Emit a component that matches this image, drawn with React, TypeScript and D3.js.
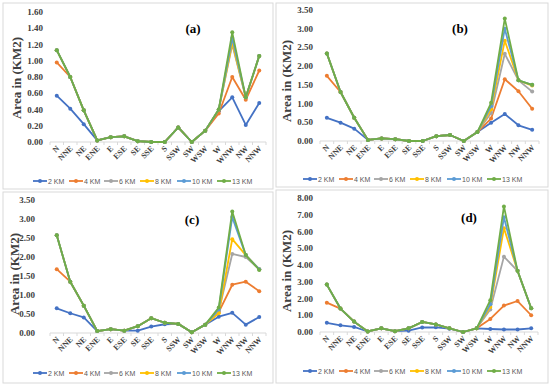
import React from 'react';
import * as d3 from 'd3';

const directions = ['N', 'NNE', 'NE', 'ENE', 'E', 'ESE', 'SE', 'SSE', 'S', 'SSW', 'SW', 'WSW', 'W', 'WNW', 'NW', 'NNW'];
const seriesNames = ['2 KM', '4 KM', '6 KM', '8 KM', '10 KM', '13 KM'];
const seriesColors = ['#4472C4', '#ED7D31', '#A5A5A5', '#FFC000', '#5B9BD5', '#70AD47'];

// panel (a)
const aKm2 = [0.57, 0.41, 0.22, 0.02, 0.06, 0.07, 0.01, 0.00, 0.00, 0.18, 0.00, 0.14, 0.38, 0.55, 0.21, 0.48];
const aKm4 = [0.98, 0.80, 0.39, 0.02, 0.06, 0.07, 0.01, 0.00, 0.00, 0.18, 0.00, 0.14, 0.35, 0.80, 0.52, 0.88];
const aKm6 = [1.13, 0.80, 0.39, 0.02, 0.06, 0.07, 0.01, 0.00, 0.00, 0.18, 0.00, 0.14, 0.40, 1.20, 0.55, 1.06];
const aKm8 = [1.13, 0.80, 0.39, 0.02, 0.06, 0.07, 0.01, 0.00, 0.00, 0.18, 0.00, 0.14, 0.40, 1.22, 0.55, 1.06];
const aKm10 = [1.13, 0.80, 0.39, 0.02, 0.06, 0.07, 0.01, 0.00, 0.00, 0.18, 0.00, 0.14, 0.40, 1.28, 0.55, 1.06];
const aKm13 = [1.13, 0.80, 0.39, 0.02, 0.06, 0.07, 0.01, 0.00, 0.00, 0.18, 0.00, 0.14, 0.40, 1.35, 0.55, 1.06];
const aTicks = [0, 0.2, 0.4, 0.6, 0.8, 1.0, 1.2, 1.4, 1.6];

// panel (b)
const bKm2 = [0.62, 0.49, 0.33, 0.03, 0.07, 0.05, 0.00, 0.00, 0.13, 0.16, 0.00, 0.24, 0.49, 0.72, 0.42, 0.30];
const bKm4 = [1.74, 1.31, 0.62, 0.03, 0.07, 0.05, 0.00, 0.00, 0.13, 0.16, 0.00, 0.24, 0.60, 1.65, 1.33, 0.86];
const bKm6 = [2.34, 1.31, 0.62, 0.03, 0.07, 0.05, 0.00, 0.00, 0.13, 0.16, 0.00, 0.24, 0.75, 2.33, 1.62, 1.32];
const bKm8 = [2.34, 1.31, 0.62, 0.03, 0.07, 0.05, 0.00, 0.00, 0.13, 0.16, 0.00, 0.24, 0.85, 2.68, 1.62, 1.48];
const bKm10 = [2.34, 1.31, 0.62, 0.03, 0.07, 0.05, 0.00, 0.00, 0.13, 0.16, 0.00, 0.24, 0.93, 3.00, 1.62, 1.50];
const bKm13 = [2.34, 1.31, 0.62, 0.03, 0.07, 0.05, 0.00, 0.00, 0.13, 0.16, 0.00, 0.24, 1.02, 3.27, 1.62, 1.50];
const bTicks = [0, 0.5, 1.0, 1.5, 2.0, 2.5, 3.0, 3.5];

// panel (c)
const cKm2 = [0.65, 0.52, 0.41, 0.05, 0.10, 0.06, 0.06, 0.17, 0.23, 0.24, 0.02, 0.22, 0.43, 0.53, 0.22, 0.42];
const cKm4 = [1.68, 1.35, 0.72, 0.05, 0.10, 0.06, 0.18, 0.39, 0.27, 0.24, 0.02, 0.22, 0.55, 1.27, 1.35, 1.10];
const cKm6 = [2.57, 1.35, 0.72, 0.05, 0.10, 0.06, 0.18, 0.39, 0.27, 0.24, 0.02, 0.22, 0.57, 2.08, 2.00, 1.68];
const cKm8 = [2.57, 1.35, 0.72, 0.05, 0.10, 0.06, 0.18, 0.39, 0.27, 0.24, 0.02, 0.22, 0.52, 2.47, 2.05, 1.68];
const cKm10 = [2.57, 1.35, 0.72, 0.05, 0.10, 0.06, 0.18, 0.39, 0.27, 0.24, 0.02, 0.22, 0.62, 3.05, 2.05, 1.68];
const cKm13 = [2.57, 1.35, 0.72, 0.05, 0.10, 0.06, 0.18, 0.39, 0.27, 0.24, 0.02, 0.22, 0.67, 3.20, 2.05, 1.66];
const cTicks = [0, 0.5, 1.0, 1.5, 2.0, 2.5, 3.0, 3.5];

// panel (d)
const dKm2 = [0.55, 0.40, 0.30, 0.03, 0.22, 0.05, 0.08, 0.27, 0.28, 0.20, 0.00, 0.22, 0.18, 0.15, 0.15, 0.22];
const dKm4 = [1.75, 1.40, 0.62, 0.03, 0.22, 0.05, 0.22, 0.60, 0.45, 0.22, 0.00, 0.22, 0.78, 1.58, 1.85, 1.00];
const dKm6 = [2.83, 1.40, 0.62, 0.03, 0.22, 0.05, 0.22, 0.60, 0.45, 0.22, 0.00, 0.22, 1.35, 4.50, 3.65, 1.42];
const dKm8 = [2.83, 1.40, 0.62, 0.03, 0.22, 0.05, 0.22, 0.60, 0.45, 0.22, 0.00, 0.22, 1.50, 6.20, 3.65, 1.42];
const dKm10 = [2.83, 1.40, 0.62, 0.03, 0.22, 0.05, 0.22, 0.60, 0.45, 0.22, 0.00, 0.22, 1.65, 6.85, 3.65, 1.42];
const dKm13 = [2.83, 1.40, 0.62, 0.03, 0.22, 0.05, 0.22, 0.60, 0.45, 0.22, 0.00, 0.22, 1.90, 7.50, 3.65, 1.42];
const dTicks = [0, 1, 2, 3, 4, 5, 6, 7, 8];

const W = 550;
const H = 386;
const legendOffsets = [0, 36, 71, 107, 144, 184];

// layout of each panel (frame, plot area, label positions)
const panels = [
  {
    label: '(a)', series: [aKm2, aKm4, aKm6, aKm8, aKm10, aKm13], ticks: aTicks,
    frame: [3, 3, 270, 186], x0: 50, x1: 266, yBottom: 142, yTop: 12,
    tickRight: 43, titleX: 21, titleY: 78, labelX: 193, labelY: 33, legendX: 33, legendY: 181,
  },
  {
    label: '(b)', series: [bKm2, bKm4, bKm6, bKm8, bKm10, bKm13], ticks: bTicks,
    frame: [276, 3, 272, 184], x0: 320, x1: 539, yBottom: 141, yTop: 10,
    tickRight: 313, titleX: 291, titleY: 81, labelX: 460, labelY: 33, legendX: 303, legendY: 179,
  },
  {
    label: '(c)', series: [cKm2, cKm4, cKm6, cKm8, cKm10, cKm13], ticks: cTicks,
    frame: [3, 192, 270, 191], x0: 50, x1: 266, yBottom: 333, yTop: 200,
    tickRight: 35, titleX: 19, titleY: 274, labelX: 192, labelY: 224, legendX: 33, legendY: 373,
  },
  {
    label: '(d)', series: [dKm2, dKm4, dKm6, dKm8, dKm10, dKm13], ticks: dTicks,
    frame: [276, 190, 272, 193], x0: 320, x1: 538, yBottom: 332, yTop: 198,
    tickRight: 313, titleX: 291, titleY: 271, labelX: 469, labelY: 222, legendX: 303, legendY: 371,
  },
];

const serif = '"Liberation Serif", "Times New Roman", serif';
const sans = '"Liberation Sans", Arial, sans-serif';

function Panel({ p }: { p: (typeof panels)[number] }) {
  const x = d3.scalePoint<string>().domain(directions).range([p.x0, p.x1]).padding(0.5);
  const y = d3.scaleLinear()
    .domain([p.ticks[0], p.ticks[p.ticks.length - 1]])
    .range([p.yBottom, p.yTop]);
  const line = d3.line<number>()
    .x((_, i) => x(directions[i]) as number)
    .y((d) => y(d));
  const step = x.step();
  const [fx, fy, fw, fh] = p.frame;

  return (
    <g>
      <rect x={fx} y={fy} width={fw} height={fh} fill="#fff" stroke="#d9d9d9" strokeWidth={1} />
      {/* y axis ticks */}
      {p.ticks.map((t) => (
        <text key={t} x={p.tickRight} y={y(t) + 3} textAnchor="end"
          fontFamily={serif} fontWeight="bold" fontSize={9} fill="#404040">
          {t.toFixed(2)}
        </text>
      ))}
      <text transform={`translate(${p.titleX},${p.titleY}) rotate(-90)`} textAnchor="middle"
        fontFamily={serif} fontWeight="bold" fontSize={13} fill="#404040">
        Area in (KM2)
      </text>
      {/* x axis */}
      <line x1={p.x0} x2={p.x1} y1={p.yBottom} y2={p.yBottom} stroke="#d9d9d9" strokeWidth={1} />
      {d3.range(directions.length + 1).map((i) => (
        <line key={i} x1={p.x0 + i * step} x2={p.x0 + i * step} y1={p.yBottom} y2={p.yBottom + 3}
          stroke="#d9d9d9" strokeWidth={1} />
      ))}
      {directions.map((d) => (
        <text key={d} transform={`translate(${(x(d) as number) + 3},${p.yBottom + 7}) rotate(-45)`}
          textAnchor="end" fontFamily={serif} fontWeight="bold" fontSize={8} fill="#404040">
          {d}
        </text>
      ))}
      {/* series */}
      {p.series.map((vals, si) => (
        <g key={si}>
          <path d={line(vals) as string} fill="none" stroke={seriesColors[si]} strokeWidth={1.8}
            strokeLinejoin="round" />
          {vals.map((v, i) => (
            <circle key={i} cx={x(directions[i]) as number} cy={y(v)} r={2}
              fill={seriesColors[si]} />
          ))}
        </g>
      ))}
      <text x={p.labelX} y={p.labelY} textAnchor="middle" fontFamily={serif} fontWeight="bold"
        fontSize={13} fill="#000">
        {p.label}
      </text>
      {/* legend */}
      {seriesNames.map((name, si) => {
        const lx = p.legendX + legendOffsets[si];
        return (
          <g key={name}>
            <line x1={lx} x2={lx + 14} y1={p.legendY} y2={p.legendY} stroke={seriesColors[si]} strokeWidth={1.8} />
            <circle cx={lx + 7} cy={p.legendY} r={2} fill={seriesColors[si]} />
            <text x={lx + 15} y={p.legendY + 2.5} fontFamily={sans} fontSize={7} fill="#595959">
              {name}
            </text>
          </g>
        );
      })}
    </g>
  );
}

export default function App() {
  return (
    <div style={{ position: 'absolute', left: 0, top: 0 }}>
      <svg width={W} height={H} style={{ display: 'block', background: '#fff' }}>
        {panels.map((p) => (
          <Panel key={p.label} p={p} />
        ))}
      </svg>
    </div>
  );
}
